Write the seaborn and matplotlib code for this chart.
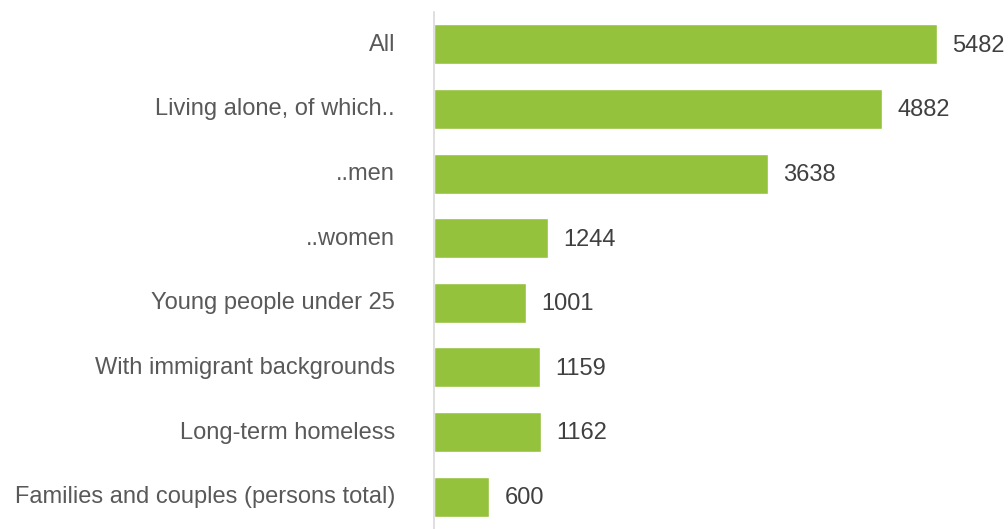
import matplotlib
matplotlib.use("Agg")
import matplotlib.pyplot as plt
import matplotlib.transforms as mtransforms
import seaborn as sns
import pandas as pd

categories = ["All", "Living alone, of which..", "..men", "..women",
              "Young people under 25", "With immigrant backgrounds",
              "Long-term homeless", "Families and couples (persons total)"]
values = [5482, 4882, 3638, 1244, 1001, 1159, 1162, 600]

sns.set_theme(style="white")
plt.rcParams['font.family'] = ['Liberation Sans', 'DejaVu Sans']

df = pd.DataFrame({"cat": categories, "val": values})

fig = plt.figure(figsize=(10.08, 5.29), dpi=100)
ax = fig.add_axes([434 / 1008, 0.0, 1 - 434 / 1008, 1 - 12 / 529])
sns.barplot(data=df, x="val", y="cat", color="#95C23D", saturation=1,
            width=0.62, ax=ax, orient="h")
ax.set_xlim(0, 6253)
ax.set_ylim(7.5, -0.5)
ax.set_xlabel("")
ax.set_ylabel("")
ax.set_xticks([])
for s in ["top", "right", "bottom"]:
    ax.spines[s].set_visible(False)
ax.spines["left"].set_color("#d9d9d9")
ax.spines["left"].set_linewidth(1.2)
ax.tick_params(axis="y", length=0, pad=28, labelsize=17, labelcolor="#595959")

shift = mtransforms.ScaledTranslation(0, 2 / 100, fig.dpi_scale_trans)
for lbl in ax.get_yticklabels():
    lbl.set_transform(lbl.get_transform() + shift)

for i, v in enumerate(values):
    ax.annotate(str(v), xy=(v, i), xytext=(11, -1), textcoords="offset points",
                va="center", ha="left", fontsize=17, color="#404040")

fig.savefig("out.png", dpi=100)
